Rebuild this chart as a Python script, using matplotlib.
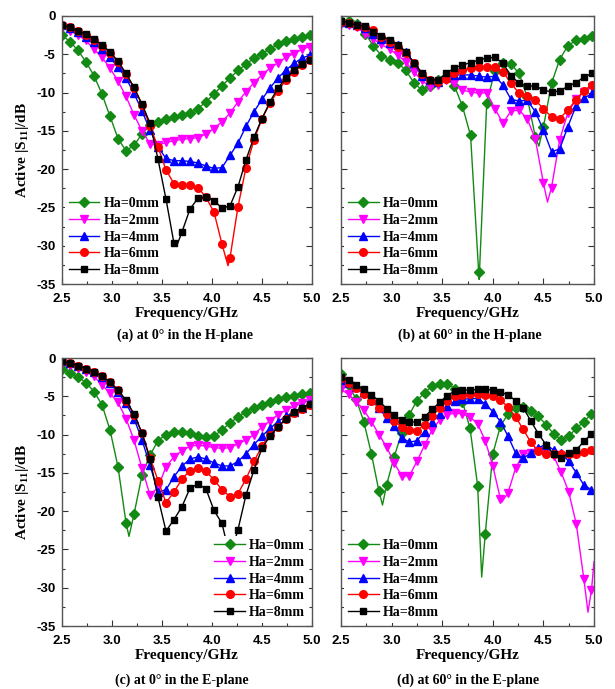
import numpy as np
import matplotlib.pyplot as plt
from matplotlib.ticker import MultipleLocator, FormatStrFormatter

plt.rcParams["axes.unicode_minus"] = False
plt.rcParams["mathtext.default"] = "regular"

# frequency sweep points where the markers sit
freq_abc = np.linspace(2.5, 4.98, 32)   # panels a, b, c
freq_d = np.linspace(2.5, 4.975, 34)    # panel d

labels = ["Ha=0mm", "Ha=2mm", "Ha=4mm", "Ha=6mm", "Ha=8mm"]
colors = ["#138a13", "#ff00ff", "#0000ff", "#ff0000", "#000000"]
markers = ["D", "v", "^", "o", "s"]
msizes = [4.8, 6, 6, 5.5, 5]

# (a) 0 deg, H-plane
a_0mm = [-2.5, -3.35, -4.5, -6.0, -7.8, -10.2, -13.1, -16.0, -17.6, -16.9, -15.4, -14.3, -13.8, -13.4,
         -13.2, -12.9, -12.7, -12.1, -11.2, -10.2, -9.1, -8.1, -7.1, -6.3, -5.5, -4.9, -4.3, -3.7,
         -3.3, -3.0, -2.7, -2.5]
a_2mm = [-1.4, -1.9, -2.5, -3.2, -4.35, -5.4, -6.8, -8.5, -10.5, -12.9, -15.0, -16.7, -16.9, -16.5,
         -16.3, -16.1, -16.0, -15.9, -15.4, -14.7, -13.8, -12.7, -11.2, -9.9, -8.7, -7.7, -6.8, -6.1,
         -5.4, -4.9, -4.35, -4.0]
a_4mm = [-1.2, -1.6, -2.1, -2.7, -3.35, -4.35, -5.4, -6.7, -8.1, -10.1, -12.4, -14.9, -17.1, -18.6,
         -18.9, -18.9, -19.0, -19.2, -19.6, -19.9, -19.8, -18.2, -16.6, -14.4, -12.5, -10.9, -9.4,
         -8.1, -7.05, -6.2, -5.5, -5.1]
a_6mm = [-1.2, -1.5, -2.0, -2.5, -3.1, -3.9, -4.8, -6.0, -7.6, -9.4, -11.6, -14.4, -17.1, -20.1,
         -21.9, -22.1, -22.1, -22.4, -23.7, -25.6, -29.8, -31.6, -24.9, -19.8, -16.2, -13.4, -11.4,
         -9.75, -8.36, -7.3, -6.4, -5.75]
a_8mm = [-1.2, -1.5, -2.0, -2.4, -3.05, -3.8, -4.7, -5.9, -7.5, -9.3, -11.5, -14.0, -18.7, -23.9,
         -29.7, -28.2, -25.2, -23.8, -23.7, -24.1, -25.1, -24.8, -22.3, -18.8, -15.8, -13.4, -11.2,
         -9.4, -8.1, -7.1, -6.3, -5.7]
a_6mm_dip = ([4.16], [-32.6])
a_8mm_dip = ([3.645], [-30.1])

# (b) 60 deg, H-plane
b_0mm = [-0.6, -0.6, -1.0, -2.3, -3.9, -5.2, -5.7, -6.1, -7.1, -8.7, -9.7, -9.1, -8.4, -8.1, -9.1,
         -11.8, -15.6, -33.4, -11.3, -7.2, -6.1, -6.3, -7.5, -10.6, -15.8, -14.5, -8.8, -5.7, -3.9,
         -3.2, -3.0, -2.6]
b_2mm = [-1.0, -1.2, -1.5, -2.3, -3.05, -3.7, -4.35, -5.1, -6.0, -7.3, -8.4, -9.3, -9.0, -8.4, -8.8,
         -9.7, -9.9, -10.1, -10.0, -12.1, -14.0, -12.4, -12.3, -13.4, -16.1, -21.8, -22.4, -16.2,
         -12.7, -10.9, -9.9, -9.3]
b_4mm = [-0.75, -0.95, -1.2, -1.6, -2.4, -3.05, -3.5, -3.8, -4.65, -6.2, -7.85, -8.4, -8.6, -8.0,
         -7.7, -7.7, -7.7, -7.85, -8.0, -7.85, -9.0, -10.9, -11.1, -11.0, -12.5, -14.9, -17.7, -17.4,
         -14.5, -11.8, -10.75, -10.1]
b_6mm = [-0.75, -0.95, -1.3, -1.4, -1.8, -2.7, -3.35, -4.0, -4.8, -6.1, -7.6, -8.4, -8.6, -8.2,
         -7.5, -7.05, -6.8, -6.7, -6.7, -6.7, -7.3, -8.8, -10.1, -10.5, -11.0, -12.1, -13.2, -13.4,
         -12.3, -11.0, -9.75, -9.0]
b_8mm = [-0.6, -0.95, -1.2, -1.3, -2.05, -2.6, -3.1, -3.8, -4.65, -6.1, -7.4, -8.4, -8.3, -7.5,
         -6.8, -6.4, -6.1, -5.75, -5.5, -5.4, -6.2, -7.8, -8.8, -9.2, -9.1, -9.7, -9.9, -9.8,
         -9.2, -8.7, -8.0, -7.5]
b_0mm_dip = ([3.865, 4.455], [-34.4, -17.0])
b_2mm_dip = ([4.54], [-24.3])

# (c) 0 deg, E-plane
c_0mm = [-1.44, -1.9, -2.5, -3.2, -4.4, -6.1, -9.4, -14.2, -21.5, -20.4, -15.3, -12.7, -10.8, -10.0,
         -9.6, -9.6, -9.8, -10.2, -10.35, -10.2, -9.4, -8.5, -7.7, -7.0, -6.5, -6.1, -5.7, -5.4,
         -5.1, -4.9, -4.7, -4.6]
c_2mm = [-0.6, -0.9, -1.3, -1.8, -2.4, -3.5, -4.6, -5.8, -7.9, -10.7, -14.4, -17.9, -16.9, -14.2,
         -12.9, -12.1, -11.5, -11.4, -11.5, -11.7, -11.8, -11.7, -11.2, -10.7, -10.0, -9.0, -8.2,
         -7.4, -6.8, -6.3, -5.9, -5.5]
c_4mm = [-0.44, -0.7, -1.0, -1.4, -1.8, -2.5, -3.3, -4.5, -5.9, -7.9, -10.7, -14.0, -17.5, -17.2,
         -15.5, -14.1, -13.2, -12.9, -13.2, -13.7, -14.1, -14.1, -13.5, -12.5, -11.3, -10.2, -9.2,
         -8.3, -7.6, -7.0, -6.5, -6.0]
c_6mm = [-0.44, -0.7, -1.0, -1.4, -1.8, -2.4, -3.1, -4.2, -5.6, -7.4, -9.8, -13.0, -16.0, -18.9,
         -17.5, -15.8, -14.7, -14.4, -14.8, -15.9, -17.2, -18.1, -17.7, -15.8, -13.5, -11.5, -10.0,
         -9.0, -8.0, -7.2, -6.6, -6.1]
c_8mm = [-0.44, -0.7, -1.0, -1.4, -1.8, -2.4, -3.1, -4.2, -5.5, -7.3, -9.8, -13.2, -18.2, -22.6,
         -21.1, -19.4, -17.0, -16.45, -17.1, -19.9, -21.6, -26.0, -22.4, -17.9, -14.6, -11.8, -10.2,
         -9.0, -7.9, -7.1, -6.5, -6.0]
c_0mm_dip = ([3.17], [-23.3])

# (d) 60 deg, E-plane
d_0mm = [-2.1, -3.5, -5.4, -8.3, -12.5, -17.4, -16.6, -12.9, -9.8, -7.4, -5.55, -4.55, -3.67, -3.37,
         -3.37, -4.0, -5.7, -9.2, -16.7, -23.0, -12.5, -8.9, -7.3, -6.5, -6.4, -6.9, -7.6, -8.7,
         -9.9, -10.7, -10.2, -9.2, -8.3, -7.3]
d_2mm = [-4.1, -4.75, -5.7, -6.8, -8.3, -10.0, -11.6, -13.7, -15.4, -15.4, -13.5, -11.4, -9.4, -8.1,
         -7.4, -7.2, -7.3, -7.7, -8.6, -10.8, -14.1, -18.4, -17.6, -14.4, -12.5, -12.4, -12.2, -12.2,
         -12.8, -14.9, -17.5, -21.7, -28.9, -30.3]
d_4mm = [-2.9, -3.3, -3.8, -4.5, -5.5, -6.5, -7.8, -8.9, -10.4, -11.0, -10.8, -9.6, -8.3, -7.25,
         -6.3, -5.6, -5.4, -5.3, -5.3, -6.0, -7.0, -8.3, -10.2, -12.4, -13.1, -12.4, -11.7, -11.3,
         -12.0, -12.4, -13.5, -15.0, -16.6, -17.2]
d_6mm = [-2.6, -3.2, -3.9, -4.7, -5.6, -6.5, -7.3, -8.2, -9.0, -9.4, -9.5, -8.7, -7.6, -6.5, -5.6,
         -5.0, -4.8, -4.7, -4.7, -4.85, -5.0, -5.5, -6.4, -7.7, -9.3, -11.0, -12.2, -12.6, -12.6,
         -12.6, -12.6, -12.5, -12.3, -12.0]
d_8mm = [-2.5, -2.9, -3.5, -4.1, -4.8, -5.6, -6.6, -7.5, -8.1, -8.3, -8.4, -7.7, -6.7, -5.8, -4.9,
         -4.3, -4.2, -4.2, -4.1, -4.1, -4.2, -4.4, -4.85, -5.55, -6.5, -8.2, -9.9, -11.3, -12.6,
         -13.1, -12.4, -12.0, -10.9, -9.9]
d_0mm_dip = ([2.91, 3.89], [-19.2, -28.6])
d_2mm_dip = ([4.09, 4.94, 5.0], [-18.8, -33.2, -26.6])

no_dip = ([], [])

serif = {"family": "Liberation Serif", "weight": "bold"}


def draw_curve(ax, freq, vals, extra, k):
    # merge marker points with the extra points that only the line passes through
    x = np.concatenate([freq, extra[0]])
    y = np.concatenate([vals, extra[1]])
    is_marker = np.concatenate([np.ones(len(freq), bool), np.zeros(len(extra[0]), bool)])
    order = np.argsort(x, kind="stable")
    ax.plot(x[order], y[order], color=colors[k], marker=markers[k], markersize=msizes[k],
            markevery=list(is_marker[order]), linewidth=1.0, label=labels[k])


def setup_axes(ax, show_ylabels):
    ax.set_xlim(2.5, 5.0)
    ax.set_ylim(-35, 0)
    ax.xaxis.set_major_locator(MultipleLocator(0.5))
    ax.xaxis.set_minor_locator(MultipleLocator(0.25))
    ax.yaxis.set_major_locator(MultipleLocator(5))
    ax.yaxis.set_minor_locator(MultipleLocator(2.5))
    ax.xaxis.set_major_formatter(FormatStrFormatter("%.1f"))
    ax.tick_params(which="both", direction="in", right=True, top=False,
                   labelsize=9.5, width=0.8, colors="#333333", labelcolor="black")
    ax.tick_params(which="major", length=4)
    ax.tick_params(which="minor", length=2.5)
    ax.tick_params(axis="x", which="both", pad=6.5)
    ax.tick_params(axis="y", which="both", pad=4.5)
    for lab in ax.get_xticklabels() + ax.get_yticklabels():
        lab.set_fontfamily("Liberation Sans")
        lab.set_fontweight("bold")
    if not show_ylabels:
        ax.tick_params(labelleft=False)
    for sp in ax.spines.values():
        sp.set_color("#555555")
        sp.set_linewidth(1.0)
    ax.set_xlabel("Frequency/GHz", fontdict=serif, fontsize=11, labelpad=1.5)
    if show_ylabels:
        ax.set_ylabel("Active |S$_{11}$|/dB", fontdict=serif, fontsize=11, labelpad=4)


fig = plt.figure(figsize=(6.15, 6.89), dpi=100)
ax_a = fig.add_axes([0.1008, 0.5878, 0.4065, 0.3890])
ax_b = fig.add_axes([0.5545, 0.5878, 0.4114, 0.3890])
ax_c = fig.add_axes([0.1008, 0.0914, 0.4065, 0.3890])
ax_d = fig.add_axes([0.5545, 0.0914, 0.4114, 0.3890])

panel_a = [(a_0mm, no_dip), (a_2mm, no_dip), (a_4mm, no_dip), (a_6mm, a_6mm_dip), (a_8mm, a_8mm_dip)]
panel_b = [(b_0mm, b_0mm_dip), (b_2mm, b_2mm_dip), (b_4mm, no_dip), (b_6mm, no_dip), (b_8mm, no_dip)]
panel_c = [(c_0mm, c_0mm_dip), (c_2mm, no_dip), (c_4mm, no_dip), (c_6mm, no_dip), (c_8mm, no_dip)]
panel_d = [(d_0mm, d_0mm_dip), (d_2mm, d_2mm_dip), (d_4mm, no_dip), (d_6mm, no_dip), (d_8mm, no_dip)]

for ax, freq, panel in [(ax_a, freq_abc, panel_a), (ax_b, freq_abc, panel_b),
                        (ax_c, freq_abc, panel_c), (ax_d, freq_d, panel_d)]:
    for k, (vals, extra) in enumerate(panel):
        draw_curve(ax, freq, vals, extra, k)

setup_axes(ax_a, True)
setup_axes(ax_b, False)
setup_axes(ax_c, True)
setup_axes(ax_d, False)

legend_kw = dict(prop={"family": "Liberation Serif", "weight": "bold", "size": 10},
                 frameon=True, facecolor="white", edgecolor="none", framealpha=1,
                 handlelength=2.2, handletextpad=0.3, labelspacing=0.27,
                 borderpad=0.25, borderaxespad=0.25)
ax_a.legend(loc="lower left", **legend_kw)
ax_b.legend(loc="lower left", **legend_kw)
ax_c.legend(loc="lower right", **legend_kw)
ax_d.legend(loc="lower left", **legend_kw)

fig.text(185 / 615, 1 - 335 / 689, "(a) at 0\u00b0 in the H-plane", fontdict=serif, fontsize=10,
         ha="center", va="center")
fig.text(470 / 615, 1 - 335 / 689, "(b) at 60\u00b0 in the H-plane", fontdict=serif, fontsize=10,
         ha="center", va="center")
fig.text(182 / 615, 1 - 680 / 689, "(c) at 0\u00b0 in the E-plane", fontdict=serif, fontsize=10,
         ha="center", va="center")
fig.text(468 / 615, 1 - 680 / 689, "(d) at 60\u00b0 in the E-plane", fontdict=serif, fontsize=10,
         ha="center", va="center")

fig.savefig("out.png", dpi=100)
